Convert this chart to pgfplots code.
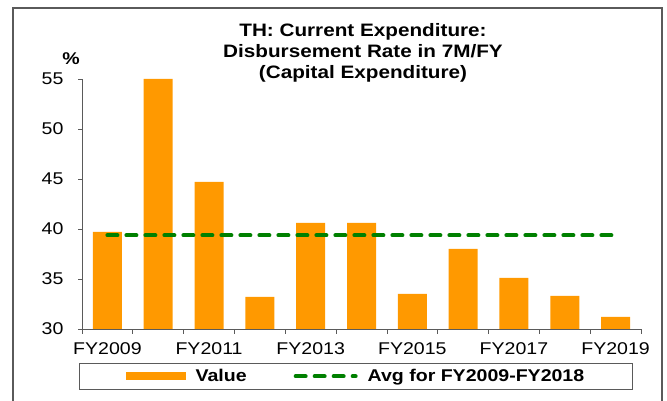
\documentclass[border=0pt]{standalone}
\usepackage{fontspec}
\setmainfont{Liberation Sans}[FakeStretch=1.15]
\usepackage{pgfplots}
\pgfplotsset{compat=1.18}
\definecolor{barorange}{RGB}{255,153,0}
\definecolor{avggreen}{RGB}{0,128,0}
\definecolor{axisgray}{RGB}{90,90,90}

\begin{document}
\begin{tikzpicture}[x=1pt,y=1pt]
\useasboundingbox (-82,-72) rectangle (585,329);
% outer chart frame
\draw[axisgray, line width=1.2pt] (-69,-80) -- (-69,321) -- (580,321) -- (580,-80);

\begin{axis}[
    at={(0,0)}, anchor=south west,
    scale only axis,
    width=559pt, height=250pt,
    xmin=-0.5, xmax=10.5,
    ymin=30, ymax=55,
    axis lines*=left,
    axis line style={axisgray, line width=0.8pt},
    tick style={axisgray, line width=0.8pt},
    tick align=outside,
    major tick length=4pt,
    minor tick length=5pt,
    ytick={30,35,...,55},
    xtick={0,2,...,10},
    xticklabels={FY2009,FY2011,FY2013,FY2015,FY2017,FY2019},
    major x tick style={draw=none},
    minor xtick={-0.5,0.5,...,10.5},
    ticklabel style={font=\fontsize{17}{20}\selectfont},
    xticklabel style={yshift=-6pt},
    yticklabel style={xshift=-11pt},
    /pgf/number format/assume math mode=true,
    clip=false,
    legend columns=2,
    legend style={
        at={(axis description cs:-0.005,-0.136)}, anchor=north west,
        draw=axisgray, line width=0.8pt,
        font=\fontsize{17}{20}\selectfont\bfseries,
        inner xsep=46pt, inner ysep=4pt,
        /tikz/every odd column/.append style={column sep=8pt},
        /tikz/every even column/.append style={column sep=45pt},
    },
]
\addplot[ybar, bar width=29pt, fill=barorange, draw=none,
    legend image code/.code={\fill[barorange] (0pt,-4pt) rectangle (60pt,4pt);}]
    coordinates {
    (0,39.7) (1,55.0) (2,44.7) (3,33.2) (4,40.6) (5,40.6)
    (6,33.5) (7,38.0) (8,35.1) (9,33.3) (10,31.2)};
\addlegendentry{Value}

\addplot[avggreen, line width=4pt, dash pattern=on 10pt off 9pt, line cap=round,
    legend image code/.code={\draw[avggreen, line width=4pt, dash pattern=on 10pt off 9pt, line cap=round] (2pt,0pt) -- (62pt,0pt);}]
    coordinates {(0,39.37) (10,39.37)};
\addlegendentry{Avg for FY2009-FY2018}
\end{axis}

\node[align=center, font=\fontsize{18}{21}\selectfont\bfseries] at (281,276)
    {TH: Current Expenditure:\\Disbursement Rate in 7M/FY\\(Capital Expenditure)};
\node[font=\fontsize{17}{20}\selectfont\bfseries] at (-11,270) {\%};
\end{tikzpicture}
\end{document}
